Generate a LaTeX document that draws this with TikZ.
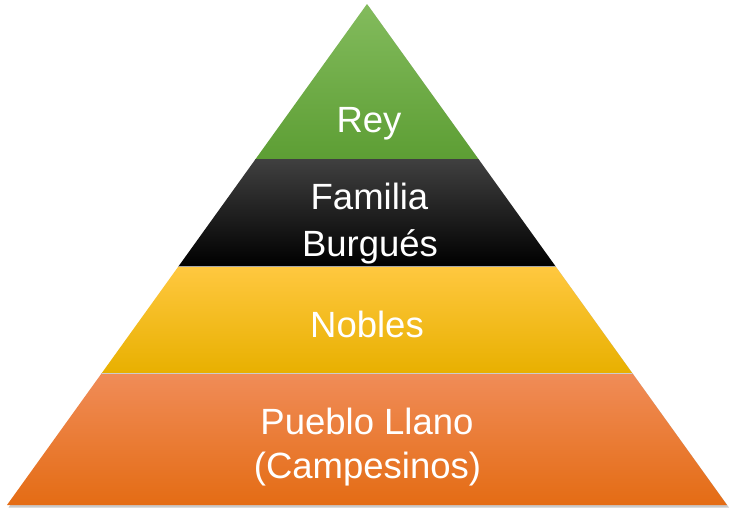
\documentclass[tikz,border=0pt]{standalone}
\usepackage{fontspec}
\setmainfont{Liberation Sans}
\definecolor{verdeA}{HTML}{84BC5E}
\definecolor{verdeB}{HTML}{5D9E34}
\definecolor{negroA}{HTML}{404040}
\definecolor{amarA}{HTML}{FFC840}
\definecolor{amarM}{HTML}{FFC000}
\definecolor{amarB}{HTML}{E8B000}
\definecolor{narA}{HTML}{F08C58}
\definecolor{narM}{HTML}{F47C2C}
\definecolor{narB}{HTML}{E46C14}
\begin{document}
\begin{tikzpicture}[x=1pt,y=-1pt,
    rotulo/.style={font=\fontsize{36.5}{44}\selectfont, text=white, anchor=base, inner sep=0pt}]
\useasboundingbox (0,0) rectangle (734,522);
\coordinate (cima) at (367,4);
\coordinate (izq) at (7,505);
\coordinate (der) at (727,505);
% sombra
\fill[black!35, opacity=0.6] (368.5,6) -- (729,507.5) -- (8.5,507.5) -- cycle;
\begin{scope}
\clip (cima) -- (der) -- (izq) -- cycle;
\shade[top color=verdeA, bottom color=verdeB] (0,0) rectangle (734,159);
\shade[top color=negroA, middle color=black, bottom color=black] (0,159) rectangle (734,266);
\shade[top color=amarA, middle color=amarM, bottom color=amarB] (0,266) rectangle (734,373);
\shade[top color=narA, middle color=narM, bottom color=narB] (0,373) rectangle (734,505);
\draw[gray!70, line width=1pt] (0,266.5) -- (734,266.5);
\draw[gray!40, line width=0.8pt] (0,373.5) -- (734,373.5);
\end{scope}
\node[rotulo] (rey) at (369,132) {Rey};
\node[rotulo] (familia) at (369.5,209) {Familia};
\node[rotulo] (burgues) at (370,256) {Burgués};
\node[rotulo] (nobles) at (367,337) {Nobles};
\node[rotulo] (pueblo) at (367,434) {Pueblo Llano};
\node[rotulo] (campesinos) at (367.5,478) {(Campesinos)};
\end{tikzpicture}
\end{document}
